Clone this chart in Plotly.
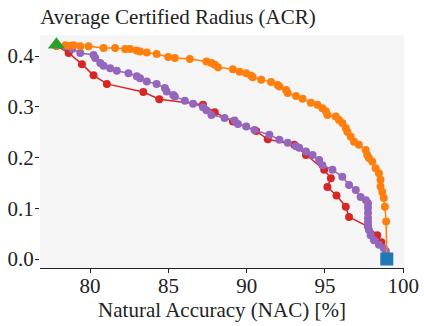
import plotly.graph_objects as go

# orange curve
orange_x = [77.85, 78.42, 78.74, 78.95, 79.37, 79.90, 80.86, 81.60, 82.24, 82.55, 82.98, 83.19,
            83.62, 84.25, 84.99, 85.41, 86.37, 87.43, 87.75, 87.96, 88.17, 89.12, 89.55, 89.97,
            90.29, 90.39, 90.93, 91.56, 91.98, 92.09, 92.52, 92.62, 93.15, 93.57, 94.10, 94.52,
            94.84, 95.06, 95.16, 95.69, 95.90, 96.11, 96.33, 96.43, 96.65, 96.86, 97.17, 97.60,
            97.70, 97.81, 98.02, 98.24, 98.45, 98.55, 98.55, 98.66, 98.76, 98.83, 98.91, 98.95]
orange_y = [0.420, 0.421, 0.420, 0.421, 0.419, 0.419, 0.416, 0.416, 0.414, 0.414, 0.411, 0.409,
            0.407, 0.404, 0.398, 0.396, 0.394, 0.389, 0.386, 0.383, 0.378, 0.374, 0.369, 0.366,
            0.361, 0.358, 0.353, 0.349, 0.343, 0.340, 0.333, 0.327, 0.321, 0.316, 0.308, 0.304,
            0.297, 0.291, 0.284, 0.281, 0.274, 0.268, 0.258, 0.251, 0.241, 0.231, 0.225, 0.215,
            0.205, 0.199, 0.192, 0.179, 0.169, 0.156, 0.143, 0.132, 0.120, 0.103, 0.074, 0.0]

# purple curve
purple_x = [77.85, 78.42, 78.85, 79.37, 80.22, 80.33, 80.65, 80.86, 81.28, 81.71, 82.45, 82.98,
            83.19, 83.62, 84.25, 84.78, 84.89, 85.31, 85.41, 86.05, 86.58, 87.21, 87.43, 87.75,
            88.59, 89.23, 89.44, 89.97, 90.50, 91.45, 92.09, 92.62, 93.15, 93.36, 93.79, 94.21,
            94.63, 94.84, 95.48, 96.11, 96.54, 96.97, 97.28, 97.62, 97.75, 97.75, 97.75, 97.75,
            97.75, 97.75, 97.81, 97.92, 98.13, 98.45, 98.76, 98.89, 98.95]
purple_y = [0.420, 0.419, 0.414, 0.406, 0.402, 0.396, 0.386, 0.381, 0.376, 0.371, 0.366, 0.360,
            0.356, 0.350, 0.345, 0.337, 0.330, 0.323, 0.320, 0.312, 0.306, 0.299, 0.293, 0.284,
            0.278, 0.273, 0.266, 0.261, 0.254, 0.245, 0.235, 0.229, 0.222, 0.219, 0.212, 0.205,
            0.195, 0.185, 0.176, 0.162, 0.146, 0.136, 0.122, 0.116, 0.110, 0.101, 0.091, 0.081,
            0.073, 0.065, 0.057, 0.047, 0.037, 0.028, 0.021, 0.016, 0.0]

# red curve
red_x = [77.85, 78.63, 79.48, 80.22, 81.07, 83.40, 84.42, 87.21, 87.96, 89.12, 90.61, 91.35,
         93.04, 93.79, 94.95, 95.38, 95.16, 95.74, 96.33, 96.54, 97.75, 98.34, 98.61, 98.95]
red_y = [0.420, 0.406, 0.384, 0.362, 0.345, 0.329, 0.315, 0.304, 0.289, 0.271, 0.252, 0.236,
         0.225, 0.205, 0.176, 0.159, 0.142, 0.125, 0.103, 0.083, 0.064, 0.047, 0.033, 0.0]

start_pt = (77.85, 0.422)
end_pt = (98.95, 0.0)

x_ticks = [80, 85, 90, 95, 100]
y_ticks = [0.0, 0.1, 0.2, 0.3, 0.4]

font = "Liberation Serif"

fig = go.Figure()
for xs, ys, col in [(red_x, red_y, "#d62728"),
                    (purple_x, purple_y, "#9467bd"),
                    (orange_x, orange_y, "#ff7f0e")]:
    fig.add_trace(go.Scatter(x=xs, y=ys, mode="lines+markers",
                             line=dict(color=col, width=1.5),
                             marker=dict(color=col, size=8)))

fig.add_trace(go.Scatter(x=[start_pt[0]], y=[start_pt[1]], mode="markers",
                         marker=dict(symbol="triangle-up", color="#2ca02c", size=15)))
fig.add_trace(go.Scatter(x=[end_pt[0]], y=[end_pt[1]], mode="markers",
                         marker=dict(symbol="square", color="#1f77b4", size=13)))

fig.update_layout(
    width=424, height=326,
    margin=dict(l=40, r=20, t=35, b=58),
    paper_bgcolor="white",
    plot_bgcolor="#f5f5f5",
    showlegend=False,
    font=dict(family=font, color="#222", size=21),
    title=dict(text="Average Certified Radius (ACR)", x=0.095, xanchor="left",
               y=0.948, yanchor="middle", font=dict(size=21)),
)
fig.update_xaxes(range=[76.8, 100.05], tickvals=x_ticks, ticks="outside", ticklen=4,
                 tickcolor="#222", showline=True, linecolor="#222", linewidth=1,
                 showgrid=False, zeroline=False, automargin=False, ticklabelstandoff=-5,
                 title=dict(text="Natural Accuracy (NAC) [%]", standoff=0, font=dict(size=21)))
fig.update_yaxes(range=[-0.0177, 0.4414], tickvals=y_ticks, tickformat=".1f",
                 ticks="outside", ticklen=4, tickcolor="#222", showline=False,
                 showgrid=False, zeroline=False, automargin=False, ticklabelstandoff=-3)

# drop the default body margin so the figure sits at the window corner
fig.write_html("out.html", config={"displayModeBar": False},
               post_script="document.body.style.margin='0px';")
